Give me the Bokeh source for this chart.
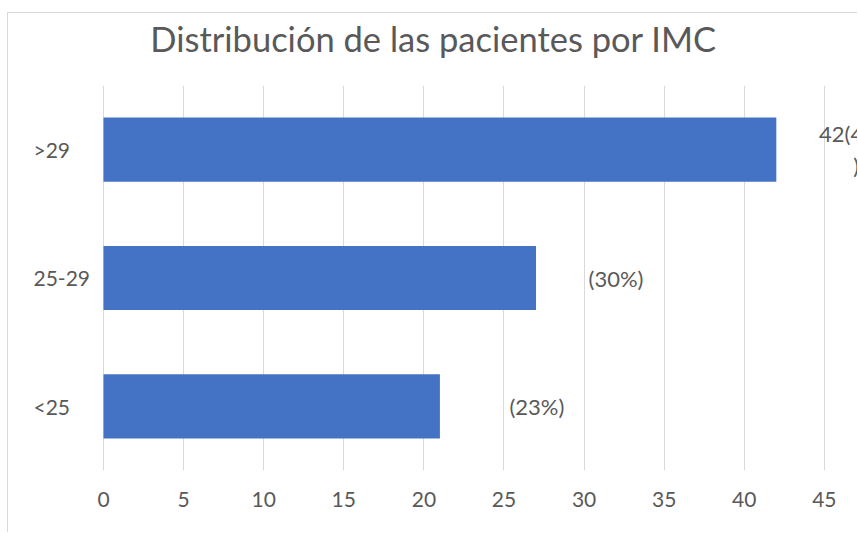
from bokeh.plotting import figure
from bokeh.models import ColumnDataSource, FactorRange, Range1d, FixedTicker, Title
from bokeh.core.properties import value
from bokeh.embed import file_html
from bokeh.resources import INLINE

# ---- data ----
categories = ["<25", "25-29", ">29"]
counts = [21, 27, 42]
bar_labels = ["(23%)", "(30%)", "42(47%\n)"]
x_ticks = [0, 5, 10, 15, 20, 25, 30, 35, 40, 45]
title_text = "Distribución de las pacientes por IMC"

# ---- styles ----
label_dx = [97, 80, 80]
TEXT = "#595959"
BAR = "#4472C4"
GRID = "#D9D9D9"
FONT = "Lato"

src = ColumnDataSource(dict(cat=categories, val=counts, lab=bar_labels,
                            dx=label_dx, lx=[-4.37] * len(categories)))

p = figure(width=850, height=520, output_backend="svg", toolbar_location=None,
           y_range=FactorRange(factors=categories, range_padding=0),
           x_range=Range1d(-5.93, 47.13),
           min_border_left=0, min_border_right=0,
           min_border_top=72, min_border_bottom=63)

# spacer panel (inner) then the real title (outer)
p.add_layout(Title(text=" ", text_font_size="1px", standoff=24), "above")
p.add_layout(Title(text=title_text, align="center", vertical_align="bottom",
                   standoff=0, text_font=FONT, text_font_size="34.5px",
                   text_font_style="normal", text_color=TEXT), "above")

p.hbar(y="cat", right="val", left=0, height=0.5, source=src,
       fill_color=BAR, line_color=None)

p.text(x="val", y="cat", text="lab", source=src, x_offset="dx",
       text_align="center", text_baseline="middle",
       text_font=value(FONT), text_font_size="22px", text_color=TEXT,
       text_line_height=1.2)

p.text(x="lx", y="cat", text="cat", source=src,
       text_align="left", text_baseline="middle",
       text_font=value(FONT), text_font_size="21px", text_color=TEXT)

p.yaxis.visible = False
p.ygrid.grid_line_color = None
p.xaxis.ticker = FixedTicker(ticks=x_ticks)
p.xaxis.axis_line_color = None
p.xaxis.major_tick_line_color = None
p.xaxis.minor_tick_line_color = None
p.xaxis.major_label_standoff = 15
p.xaxis.major_label_text_font = FONT
p.xaxis.major_label_text_font_size = "21px"
p.xaxis.major_label_text_color = TEXT
p.xgrid.ticker = FixedTicker(ticks=x_ticks)
p.xgrid.grid_line_color = GRID
p.xgrid.grid_line_width = 1
p.outline_line_color = None
p.styles = {"margin-left": "7px", "margin-top": "12px",
            "border-top": "1px solid #D9D9D9", "border-left": "1px solid #D9D9D9"}

open("out.html", "w").write(file_html(p, INLINE))
